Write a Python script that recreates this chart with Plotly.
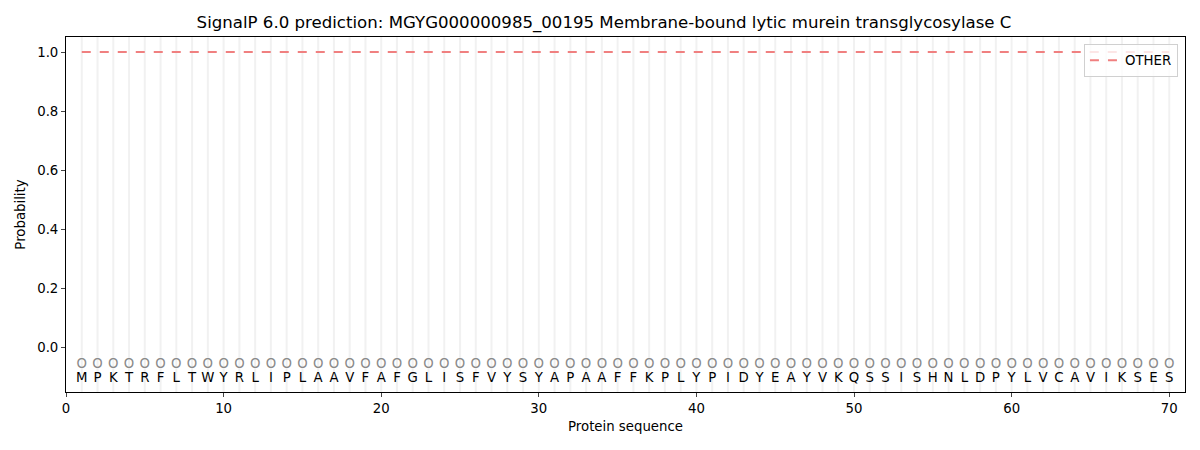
import plotly.graph_objects as go

# sequence and per-residue prediction
sequence = "MPKTRFLTWYRLIPLAAVFAFGLISFVYSYAPAAFFKPLYPIDYEAYVKQSSISHNLDPYLVCAVIKSES"
positions = list(range(1, len(sequence) + 1))
residues = list(sequence)
region_labels = ["O"] * len(sequence)
prob_other = [1.0] * len(sequence)

title = "SignalP 6.0 prediction: MGYG000000985_00195 Membrane-bound lytic murein transglycosylase C"
font_name = "DejaVu Sans"

fig = go.Figure()

# light vertical grid line at every residue
for p in positions:
    fig.add_shape(type="line", x0=p, x1=p, y0=0, y1=1, yref="paper",
                  line=dict(color="rgba(215,215,215,0.35)", width=2), layer="below")

fig.add_trace(go.Scatter(
    x=positions, y=prob_other, mode="lines", name="OTHER",
    line=dict(color="#f08080", width=2, dash="dash"),
))

# predicted region letters
fig.add_trace(go.Scatter(
    x=positions, y=[-0.06] * len(positions), mode="text", text=region_labels,
    textfont=dict(family=font_name, size=13.3, color="#8a8a8a"),
    showlegend=False, hoverinfo="skip",
))
# amino acids
fig.add_trace(go.Scatter(
    x=positions, y=[-0.107] * len(positions), mode="text", text=residues,
    textfont=dict(family=font_name, size=13.3, color="black"),
    showlegend=False, hoverinfo="skip",
))

# page body has an 8px margin, so the figure is a bit smaller
fig.update_layout(
    width=1192, height=442,
    margin=dict(l=58, r=15, t=29, b=58),
    paper_bgcolor="white", plot_bgcolor="white",
    font=dict(family=font_name, size=13.3, color="black"),
    title=dict(text=title, x=0.5, xanchor="center", y=0.968, yanchor="middle",
               font=dict(size=16.6)),
    xaxis=dict(range=[0, 71], tickvals=[0, 10, 20, 30, 40, 50, 60, 70],
               showgrid=False, zeroline=False, showline=True, mirror=True,
               linecolor="black", linewidth=1, ticks="outside", ticklen=4,
               automargin=False, tickfont=dict(size=13.3),
               title=dict(text="Protein sequence", font=dict(size=13.3), standoff=6)),
    yaxis=dict(range=[-0.151, 1.051], tickvals=[0, 0.2, 0.4, 0.6, 0.8, 1.0],
               tickformat=".1f",
               showgrid=False, zeroline=False, showline=True, mirror=True,
               linecolor="black", linewidth=1, ticks="outside", ticklen=4,
               automargin=False, tickfont=dict(size=13.3),
               title=dict(text="Probability", font=dict(size=13.3), standoff=8)),
    legend=dict(x=0.9937, y=0.98, xanchor="right", yanchor="top",
                bgcolor="rgba(255,255,255,0.8)", bordercolor="#d0d0d0",
                borderwidth=1, font=dict(size=13.3)),
)

fig.write_html("out.html")
